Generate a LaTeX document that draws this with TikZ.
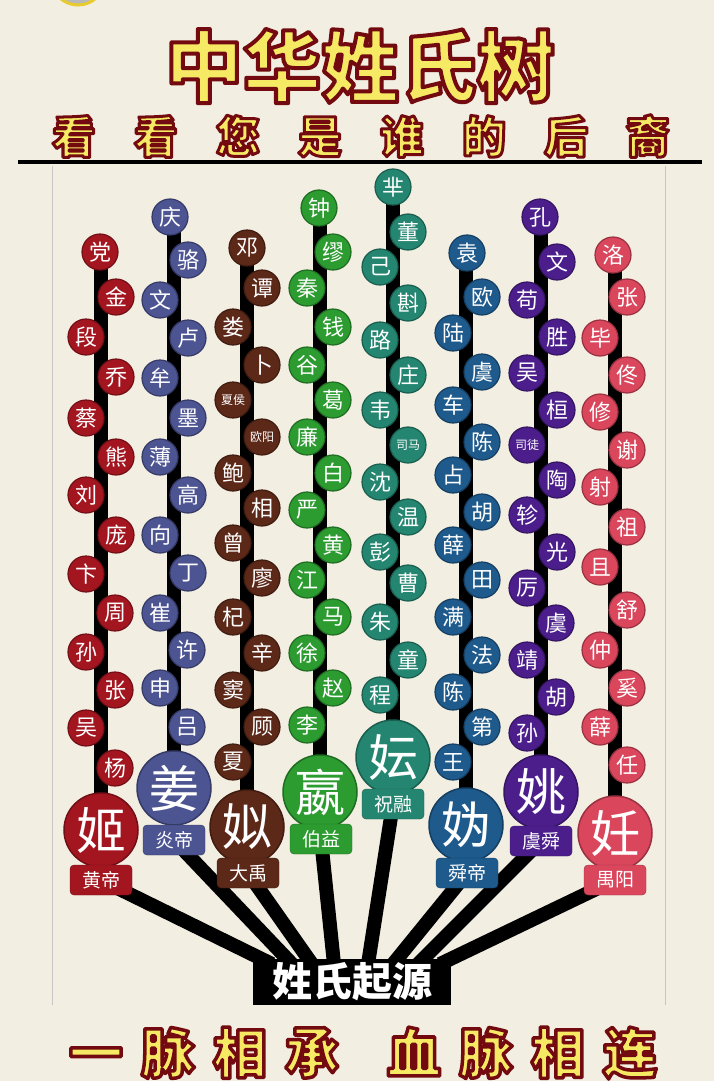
\documentclass[tikz,border=0pt]{standalone}
\usepackage{fontspec}
\newfontfamily\cjk{Noto Sans CJK SC}
\usetikzlibrary{backgrounds}
\definecolor{bgc}{RGB}{243,238,226}
\definecolor{cA}{RGB}{163,22,32}
\definecolor{cB}{RGB}{76,84,146}
\definecolor{cC}{RGB}{92,40,24}
\definecolor{cD}{RGB}{44,155,48}
\definecolor{cE}{RGB}{36,134,112}
\definecolor{cF}{RGB}{30,90,140}
\definecolor{cG}{RGB}{76,30,140}
\definecolor{cH}{RGB}{218,70,92}
\definecolor{ttl}{RGB}{246,233,100}
\newcommand{\outl}[2]{\special{pdf:literal direct 0.45 0.04 0.06 RG 2 Tr #1 w 1 j}#2\special{pdf:literal direct 0 Tr}}
\newcommand{\tw}[1]{{\fontsize{12}{12}\selectfont #1}}
\tikzset{
 sdot/.style={circle, fill=#1, draw=#1!70!black, line width=1.2pt, minimum size=36pt, inner sep=0pt, text=white, font=\cjk\fontsize{22}{22}\selectfont},
 sbig/.style={circle, fill=#1, draw=#1!70!black, line width=1.5pt, minimum size=74pt, inner sep=0pt, text=white, font=\cjk\fontsize{50}{50}\selectfont},
 stag/.style={rounded corners=4pt, fill=#1, draw=#1!70!black, minimum width=62pt, minimum height=30pt, inner sep=0pt, text=white, font=\cjk\fontsize{19}{19}\selectfont},
 sstem/.style={line width=14pt, black},
 sbranch/.style={line width=14pt, black},
}
\newcommand{\famcol}[7]{%
 \foreach \x/\y/\t [count=\i] in {#3} { \node[sdot=#2] (#1n\i) at (\x,\y) {\t}; }
 \node[sbig=#2] (#1big) at #4 {#5};
 \node[stag=#2] (#1tag) at #6 {#7};
 \begin{scope}[on background layer]
  \draw[sstem] (#1big.center |- #1n1.center) -- (#1big.center);
 \end{scope}
}
\begin{document}
\begin{tikzpicture}[x=1pt,y=-1pt]
\useasboundingbox (0,0) rectangle (714,1081);
\begin{scope}[on background layer]
\fill[bgc] (0,0) rectangle (714,1081);
\draw[gray!45, line width=1pt] (52,166) -- (52,1005);
\draw[gray!45, line width=1pt] (665,166) -- (665,1005);
\fill[gray!55, draw=yellow!60!brown, line width=3pt] (78,-22) circle (27pt);
\end{scope}

% title
\node[font=\cjk\bfseries\fontsize{78}{78}\selectfont, text=ttl] (title) at (360,66) {\outl{4}{中华姓氏树}};
\node[font=\cjk\bfseries\fontsize{44}{44}\selectfont, text=ttl] (sub) at (361,136) {\outl{3}{\makebox[82pt]{看}\makebox[82pt]{看}\makebox[82pt]{您}\makebox[82pt]{是}\makebox[82pt]{谁}\makebox[82pt]{的}\makebox[82pt]{后}\makebox[82pt]{裔}}};
\draw[line width=4pt] (18,162) -- (702,162);

% columns
\famcol{a}{cA}{100/252/党, 116/297/金, 86/337/段, 116/377/乔, 86/418/蔡, 116/457/熊, 86/495/刘, 116/535/庞, 86/574/卞, 115/613/周, 86/652/孙, 115/690/张, 86/728/吴, 115/768/杨}{(101,830)}{姬}{(101,880)}{黄帝}
\famcol{b}{cB}{170/217/庆, 188/260/骆, 160/300/文, 188/338/卢, 160/378/牟, 188/418/墨, 160/457/薄, 188/495/高, 160/535/向, 188/573/丁, 160/613/崔, 187/650/许, 160/688/申, 187/727/吕}{(174,788)}{姜}{(174,840)}{炎帝}
\famcol{c}{cC}{247/248/邓, 262/288/谭, 233/327/娄, 262/365/卜, 233/400/\tw{夏侯}, 262/437/\tw{欧阳}, 233/473/鲍, 262/508/相, 233/543/曾, 262/578/廖, 233/617/杞, 262/653/辛, 233/690/窦, 262/727/顾, 233/762/夏}{(247,827)}{姒}{(248,873)}{大禹}
\famcol{d}{cD}{319/208/钟, 333/252/缪, 307/288/秦, 333/327/钱, 307/365/谷, 333/400/葛, 307/437/廉, 333/473/白, 307/510/严, 333/545/黄, 307/580/江, 333/617/马, 307/653/徐, 333/688/赵, 307/725/李}{(320,792)}{嬴}{(321,839)}{伯益}
\famcol{e}{cE}{393/187/芈, 408/232/董, 380/267/己, 408/303/斟, 380/340/路, 408/375/庄, 380/410/韦, 408/445/\tw{司马}, 380/482/沈, 408/517/温, 380/552/彭, 408/583/曹, 380/622/朱, 408/660/童, 380/695/程}{(393,757)}{妘}{(393,804)}{祝融}
\famcol{f}{cF}{467/253/袁, 482/297/欧, 453/333/陆, 482/372/虞, 453/405/车, 482/442/陈, 453/475/占, 482/512/胡, 453/545/薛, 482/580/田, 453/617/满, 482/655/法, 453/692/陈, 482/727/第, 453/762/王}{(466,825)}{妫}{(467,873)}{舜帝}
\famcol{g}{cG}{540/217/孔, 557/262/文, 527/300/苟, 557/337/胜, 527/373/吴, 557/410/桓, 527/445/\tw{司徒}, 557/480/陶, 527/515/轸, 557/552/光, 527/588/厉, 556/623/虞, 527/660/靖, 556/697/胡, 527/733/孙}{(541,792)}{姚}{(541,841)}{虞舜}
\famcol{h}{cH}{613/255/洛, 627/297/张, 600/338/毕, 627/375/佟, 600/412/修, 627/450/谢, 600/487/射, 627/527/祖, 600/567/且, 627/610/舒, 600/650/仲, 627/688/奚, 600/727/薛, 627/765/任}{(615,833)}{妊}{(615,880)}{禺阳}

% source
\node[fill=black, text=white, minimum width=198pt, minimum height=46pt, inner sep=0pt, font=\cjk\bfseries\fontsize{40}{40}\selectfont] (src) at (352,982) {姓氏起源};
\coordinate (e1) at (272,964);
\coordinate (e2) at (292,964);
\coordinate (e3) at (312,964);
\coordinate (e4) at (334,964);
\coordinate (e5) at (368,964);
\coordinate (e6) at (393,964);
\coordinate (e7) at (418,964);
\coordinate (e8) at (440,964);
\begin{scope}[on background layer]
\draw[sbranch] (atag.center) -- (e1);
\draw[sbranch] (btag.center) -- (e2);
\draw[sbranch] (ctag.center) -- (e3);
\draw[sbranch] (dtag.center) -- (e4);
\draw[sbranch] (etag.center) -- (e5);
\draw[sbranch] (ftag.center) -- (e6);
\draw[sbranch] (gtag.center) -- (e7);
\draw[sbranch] (htag.center) -- (e8);
\end{scope}

% footer
\node[font=\cjk\bfseries\fontsize{54}{54}\selectfont, text=ttl] (foot) at (363,1053) {\outl{3.5}{\makebox[72pt]{一}\makebox[72pt]{脉}\makebox[72pt]{相}\makebox[72pt]{承}\hspace{30pt}\makebox[72pt]{血}\makebox[72pt]{脉}\makebox[72pt]{相}\makebox[72pt]{连}}};
\end{tikzpicture}
\end{document}
